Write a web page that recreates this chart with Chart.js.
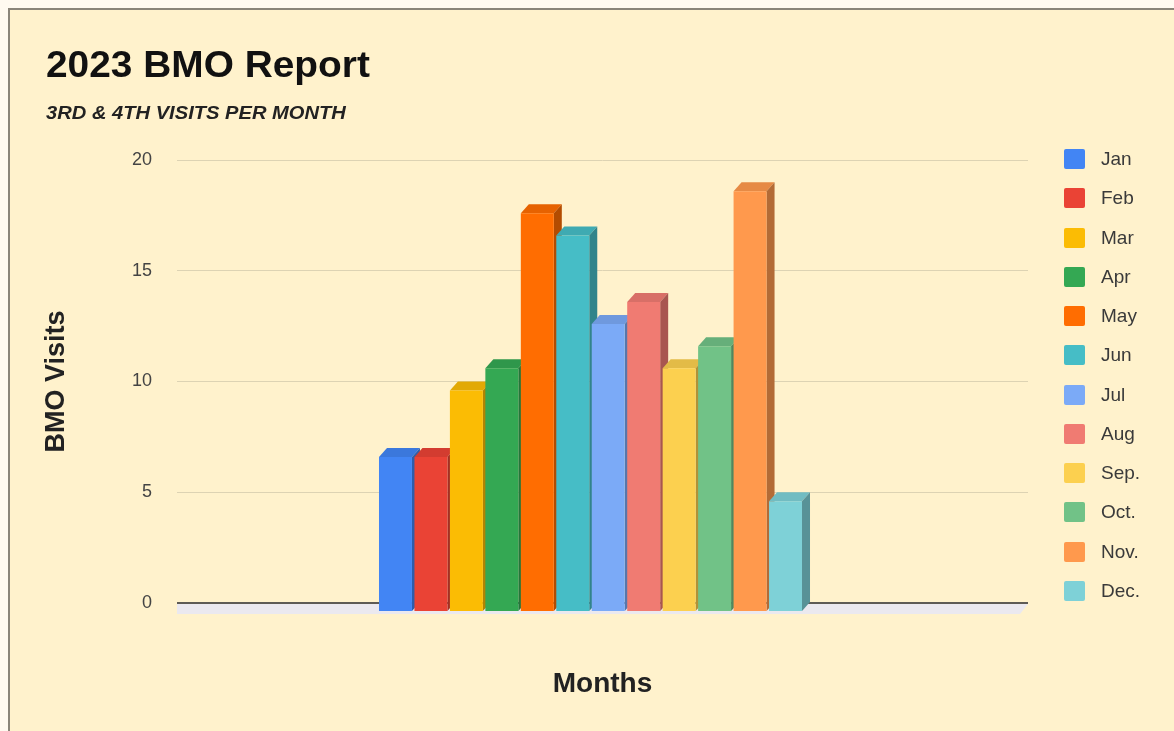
<!DOCTYPE html>
<html lang="en">
<head>
    <meta charset="UTF-8">
    <title>2023 BMO Report</title>
    <script src="https://cdn.jsdelivr.net/npm/chart.js"></script>
    <style>
        * {
            margin: 0;
            padding: 0;
            box-sizing: border-box;
        }

        body {
            width: 1174px;
            height: 731px;
            overflow: hidden;
            position: relative;
            background: #fffaf0;
            font-family: Arial, 'Liberation Sans', sans-serif;
        }

        .frame {
            position: absolute;
            left: 8px;
            top: 8px;
            right: 0;
            bottom: 0;
            background: #fff2cc;
            border-left: 2px solid #8a8579;
            border-top: 2px solid #8a8579;
        }

        canvas {
            position: absolute;
            left: 0;
            top: 0;
        }

        h1 {
            position: absolute;
            left: 46px;
            top: 46px;
            font-size: 37px;
            line-height: 37px;
            font-weight: 700;
            color: #111;
            transform: scaleX(1.05);
            transform-origin: left top;
        }

        h2 {
            position: absolute;
            left: 46px;
            top: 103px;
            font-size: 19px;
            line-height: 19px;
            font-weight: 700;
            font-style: italic;
            color: #222;
            transform: scaleX(1.06);
            transform-origin: left top;
        }

        .legend-item {
            position: absolute;
            left: 1064px;
            height: 20px;
            display: flex;
            align-items: center;
            font-size: 19px;
            color: #3a3a3a;
        }

        .legend-item span {
            display: inline-block;
            width: 21px;
            height: 20px;
            border-radius: 2px;
            margin-right: 16px;
        }
    </style>
</head>
<body>
    <div class="frame"></div>
    <canvas id="grafico" width="1174" height="731"></canvas>
    <h1>2023 BMO Report</h1>
    <h2>3RD &amp; 4TH VISITS PER MONTH</h2>
    <div id="legenda"></div>
    <script>
        // dados
        const meses = ['Jan', 'Feb', 'Mar', 'Apr', 'May', 'Jun', 'Jul', 'Aug', 'Sep.', 'Oct.', 'Nov.', 'Dec.'];
        const visitas = [7, 7, 10, 11, 18, 17, 13, 14, 11, 12, 19, 5];
        const cores = ['#4285f4', '#ea4335', '#fbbc04', '#34a853', '#ff6d01', '#46bdc6',
                       '#7baaf7', '#f07b72', '#fcd04f', '#71c287', '#ff994d', '#7ed1d7'];
        const eixoY = { min: 0, max: 20, passo: 5 };

        // efeito 3D: profundidade da barra e deslocamento da face frontal
        const PROF_X = 8, PROF_Y = 9, DESL_X = -12, DESL_Y = 9;

        function escurecer(hex, f) {
            const n = parseInt(hex.slice(1), 16);
            const r = Math.round(((n >> 16) & 255) * f);
            const g = Math.round(((n >> 8) & 255) * f);
            const b = Math.round((n & 255) * f);
            return `rgb(${r},${g},${b})`;
        }

        function poligono(ctx, pts) {
            ctx.beginPath();
            ctx.moveTo(pts[0][0], pts[0][1]);
            pts.slice(1).forEach(p => ctx.lineTo(p[0], p[1]));
            ctx.closePath();
            ctx.fill();
        }

        const barras3d = {
            id: 'barras3d',
            beforeDatasetsDraw(chart) {
                const ctx = chart.ctx;
                const area = chart.chartArea;
                ctx.save();
                // chão
                ctx.fillStyle = '#ebe9ef';
                poligono(ctx, [
                    [area.left, area.bottom + 1],
                    [area.right, area.bottom + 1],
                    [area.right - PROF_X, area.bottom + DESL_Y + 2],
                    [area.left, area.bottom + DESL_Y + 2]
                ]);
                // topo e lateral de cada barra
                chart.data.datasets.forEach((ds, i) => {
                    chart.getDatasetMeta(i).data.forEach(bar => {
                        const { x, y, base, width } = bar.getProps(['x', 'y', 'base', 'width'], true);
                        const l = x - width / 2 + DESL_X, r = x + width / 2 + DESL_X;
                        const t = y + DESL_Y, b = base + DESL_Y;
                        ctx.fillStyle = escurecer(ds.backgroundColor, 0.9);
                        poligono(ctx, [[l, t], [r, t], [r + PROF_X, t - PROF_Y], [l + PROF_X, t - PROF_Y]]);
                        ctx.fillStyle = escurecer(ds.backgroundColor, 0.7);
                        poligono(ctx, [[r, t], [r + PROF_X, t - PROF_Y], [r + PROF_X, b - PROF_Y], [r, b]]);
                    });
                });
                ctx.restore();
                ctx.save();
                ctx.translate(DESL_X, DESL_Y);
            },
            afterDatasetsDraw(chart) {
                chart.ctx.restore();
            }
        };

        Chart.defaults.font.family = "Arial, 'Liberation Sans', sans-serif";

        const ctx = document.getElementById('grafico').getContext('2d');
        const grafico = new Chart(ctx, {
            type: 'bar',
            data: {
                labels: [''],
                datasets: meses.map((m, i) => ({
                    label: m,
                    data: [visitas[i]],
                    backgroundColor: cores[i],
                    borderWidth: 0,
                    categoryPercentage: 0.5,
                    barPercentage: 0.93
                }))
            },
            options: {
                responsive: false,
                animation: false,
                layout: {
                    padding: { top: 160, right: 146, left: 0, bottom: 0 }
                },
                plugins: {
                    legend: { display: false },
                    tooltip: { enabled: false }
                },
                scales: {
                    x: {
                        grid: { display: false },
                        border: { display: false },
                        ticks: { display: false },
                        title: {
                            display: true,
                            text: 'Months',
                            color: '#222',
                            font: { size: 28, weight: 'bold' },
                            padding: { top: 0, bottom: 30 }
                        },
                        afterFit(scale) { scale.height = 128; }
                    },
                    y: {
                        min: eixoY.min,
                        max: eixoY.max,
                        border: { display: false },
                        grid: {
                            drawTicks: false,
                            color: c => c.tick.value === 0 ? '#5e5b55' : '#ddd3b3',
                            lineWidth: c => c.tick.value === 0 ? 2 : 1
                        },
                        ticks: {
                            stepSize: eixoY.passo,
                            padding: 25,
                            color: '#444',
                            font: { size: 18 }
                        },
                        title: {
                            display: true,
                            text: 'BMO Visits',
                            color: '#222',
                            font: { size: 27, weight: 'bold' },
                            padding: { top: 40, bottom: 0 }
                        },
                        afterFit(scale) { scale.width = 177; }
                    }
                }
            },
            plugins: [barras3d]
        });

        // legenda à direita
        const legenda = document.getElementById('legenda');
        meses.forEach((m, i) => {
            const item = document.createElement('div');
            item.className = 'legend-item';
            item.style.top = (149 + i * 39.27) + 'px';
            item.innerHTML = `<span style="background:${cores[i]}"></span>${m}`;
            legenda.appendChild(item);
        });
    </script>
</body>
</html>
